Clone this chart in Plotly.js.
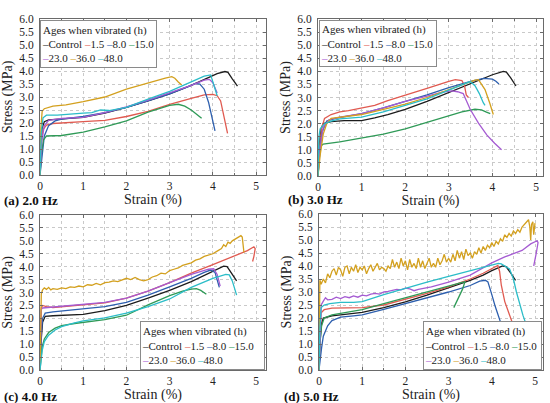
<!DOCTYPE html>
<html>
<head>
<meta charset="utf-8">
<script src="https://cdn.plot.ly/plotly-3.0.1.min.js"></script>
<style>
html,body{margin:0;padding:0;background:#fff;}
#chart{width:550px;height:403px;}
</style>
</head>
<body>
<div id="chart"></div>
<script>
// ---------- categories / labels ----------
const seriesNames = ['Control', '1.5', '8.0', '15.0', '23.0', '36.0', '48.0'];
const seriesColors = ['#1c1c1c', '#e05a50', '#2d5fae', '#2f9a57', '#a55bd2', '#d3a01e', '#2bbdc8'];
const panelLabels = ['(a) 2.0 Hz', '(b) 3.0 Hz', '(c) 4.0 Hz', '(d) 5.0 Hz'];
const legendTitles = ['Ages when vibrated (h)', 'Ages when vibrated (h)', 'Ages when vibrated (h)', 'Age when vibrated (h)'];
const xTitle = 'Strain (%)';
const yTitle = 'Stress (MPa)';

// ---------- (a) 2.0 Hz : [strain %, stress MPa] ----------
const a_control = [[0,0],[0.02,1.2],[0.05,1.8],[0.1,2.05],[0.2,2.12],[0.4,2.15],[0.7,2.18],[1.0,2.22],[1.5,2.38],[2.0,2.6],[2.5,2.85],[3.0,3.12],[3.5,3.45],[3.8,3.68],[4.1,3.9],[4.28,3.98],[4.35,3.95],[4.45,3.7],[4.57,3.42]];
const a_h1_5 = [[0,0],[0.03,1.2],[0.07,1.75],[0.15,1.92],[0.3,1.98],[0.6,2.02],[1.0,2.05],[1.5,2.1],[2.0,2.25],[2.5,2.45],[3.0,2.72],[3.5,2.95],[3.8,3.08],[4.0,3.1],[4.1,3.05],[4.18,2.85],[4.25,2.3],[4.3,1.9],[4.34,1.6]];
const a_h8_0 = [[0,0],[0.05,0.9],[0.1,1.5],[0.2,1.9],[0.35,2.08],[0.5,2.15],[1.0,2.25],[1.5,2.4],[2.0,2.6],[2.5,2.85],[3.0,3.12],[3.4,3.38],[3.6,3.52],[3.7,3.5],[3.8,3.3],[3.9,2.8],[4.0,2.1],[4.05,1.7]];
const a_h15_0 = [[0,0],[0.03,0.8],[0.08,1.35],[0.15,1.5],[0.5,1.52],[1.0,1.65],[1.5,1.85],[2.0,2.08],[2.5,2.42],[3.0,2.68],[3.2,2.72],[3.35,2.65],[3.5,2.5],[3.6,2.38],[3.74,2.18]];
const a_h23_0 = [[0,0],[0.04,1.3],[0.1,1.9],[0.2,2.1],[0.5,2.18],[1.0,2.22],[1.5,2.4],[2.0,2.62],[2.5,2.88],[3.0,3.15],[3.5,3.45],[3.8,3.65],[3.92,3.68],[4.0,3.55],[4.1,3.15]];
const a_h36_0 = [[0,0],[0.02,1.8],[0.05,2.45],[0.1,2.55],[0.3,2.65],[0.6,2.7],[1.0,2.82],[1.5,3.0],[2.0,3.3],[2.5,3.55],[2.9,3.73],[3.05,3.78],[3.12,3.72],[3.2,3.58],[3.28,3.46]];
const a_h48_0 = [[0,0],[0.03,1.6],[0.07,2.2],[0.15,2.3],[0.4,2.3],[0.7,2.35],[1.0,2.38],[1.2,2.4],[1.4,2.5],[1.6,2.48],[1.8,2.55],[2.0,2.6],[2.5,2.92],[3.0,3.22],[3.5,3.58],[3.8,3.8],[3.95,3.85],[4.0,3.6],[4.05,3.3],[4.1,3.05]];

// ---------- (b) 3.0 Hz ----------
const b_control = [[0,0],[0.03,1.2],[0.07,1.8],[0.12,2.0],[0.3,2.08],[0.6,2.12],[1.0,2.12],[1.3,2.22],[1.6,2.35],[2.0,2.55],[2.5,2.85],[3.0,3.2],[3.5,3.55],[3.8,3.75],[4.0,3.87],[4.25,4.0],[4.32,3.97],[4.42,3.75],[4.54,3.44]];
const b_h1_5 = [[0,0],[0.03,1.0],[0.08,1.8],[0.15,2.2],[0.3,2.35],[0.5,2.45],[0.7,2.5],[1.0,2.6],[1.3,2.7],[1.6,2.88],[2.0,3.08],[2.5,3.35],[3.0,3.62],[3.15,3.68],[3.3,3.65],[3.36,3.45],[3.4,3.1],[3.45,3.0]];
const b_h8_0 = [[0,0],[0.04,1.0],[0.1,1.7],[0.2,2.1],[0.4,2.2],[0.7,2.3],[1.0,2.38],[1.5,2.6],[2.0,2.85],[2.5,3.1],[3.0,3.38],[3.5,3.62],[3.8,3.73],[4.0,3.7],[4.08,3.62],[4.15,3.52]];
const b_h15_0 = [[0,0],[0.03,0.7],[0.07,1.15],[0.12,1.22],[0.5,1.3],[1.0,1.45],[1.5,1.6],[2.0,1.8],[2.5,2.05],[3.0,2.32],[3.3,2.45],[3.6,2.55],[3.75,2.53],[3.85,2.45],[3.95,2.38]];
const b_h23_0 = [[0,0],[0.05,1.1],[0.12,1.85],[0.25,2.15],[0.5,2.25],[1.0,2.38],[1.5,2.6],[2.0,2.85],[2.5,3.05],[2.9,3.22],[3.07,3.25],[3.2,3.22],[3.33,3.15],[3.49,2.55],[3.68,2.02],[3.87,1.57],[4.05,1.25],[4.21,1.0]];
const b_h36_0 = [[0,0],[0.05,0.8],[0.12,1.6],[0.2,2.0],[0.3,2.2],[0.5,2.25],[1.0,2.35],[1.5,2.55],[2.0,2.75],[2.5,3.0],[3.0,3.3],[3.4,3.55],[3.6,3.66],[3.68,3.68],[3.83,3.3],[3.94,2.78],[4.02,2.35]];
const b_h48_0 = [[0,0],[0.02,1.5],[0.05,1.8],[0.15,2.0],[0.3,2.1],[0.5,2.18],[1.0,2.25],[1.5,2.45],[2.0,2.7],[2.5,2.95],[3.0,3.28],[3.3,3.5],[3.49,3.61],[3.6,3.45],[3.7,3.15],[3.79,2.8],[3.83,2.7]];

// ---------- (c) 4.0 Hz ----------
const c_control = [[0,0],[0.02,1.0],[0.06,1.85],[0.12,2.08],[0.3,2.1],[0.6,2.12],[1.0,2.15],[1.5,2.3],[2.0,2.5],[2.5,2.78],[3.0,3.08],[3.5,3.42],[3.8,3.65],[4.0,3.82],[4.25,4.02],[4.33,4.0],[4.43,3.75],[4.55,3.45]];
const c_h1_5 = [[0,0],[0.01,1.5],[0.03,2.4],[0.06,2.5],[0.15,2.45],[0.3,2.42],[0.5,2.45],[0.8,2.48],[1.0,2.5],[1.5,2.6],[2.0,2.78],[2.5,3.05],[3.0,3.38],[3.5,3.75],[4.0,4.08],[4.5,4.4],[4.8,4.62],[4.95,4.77],[4.98,4.7],[4.95,4.4],[4.92,4.2]];
const c_h8_0 = [[0,0],[0.02,1.2],[0.06,2.0],[0.12,2.2],[0.3,2.25],[0.6,2.3],[1.0,2.35],[1.5,2.45],[2.0,2.62],[2.5,2.9],[3.0,3.22],[3.5,3.55],[3.8,3.78],[3.95,3.87],[4.05,3.78],[4.1,3.5],[4.15,3.2]];
const c_h15_0 = [[0,0],[0.02,0.5],[0.05,0.9],[0.1,1.2],[0.2,1.45],[0.35,1.62],[0.5,1.72],[0.8,1.8],[1.0,1.85],[1.5,1.95],[2.0,2.12],[2.5,2.52],[3.0,2.88],[3.3,3.05],[3.5,3.13],[3.62,3.15],[3.72,3.08],[3.8,3.0],[3.85,2.93]];
const c_h23_0 = [[0,0],[0.01,1.5],[0.03,2.35],[0.06,2.4],[0.2,2.42],[0.5,2.47],[1.0,2.55],[1.5,2.62],[2.0,2.78],[2.5,3.05],[3.0,3.38],[3.5,3.7],[3.9,3.9],[4.02,3.92],[4.1,3.7],[4.17,3.25]];
const c_h36_0 = [[0,0],[0.01,2.0],[0.03,2.95],[0.06,3.1],[0.1,3.18],[0.15,3.12],[0.2,3.2],[0.25,3.1],[0.3,3.15],[0.4,3.12],[0.5,3.18],[0.6,3.15],[0.7,3.22],[0.8,3.2],[0.9,3.25],[1.0,3.22],[1.1,3.3],[1.2,3.28],[1.3,3.35],[1.4,3.3],[1.5,3.38],[1.6,3.4],[1.7,3.45],[1.8,3.42],[1.9,3.5],[2.0,3.55],[2.1,3.5],[2.2,3.58],[2.3,3.5],[2.4,3.45],[2.5,3.5],[2.6,3.6],[2.7,3.65],[2.8,3.75],[2.9,3.72],[3.0,3.85],[3.1,3.9],[3.2,3.95],[3.3,4.05],[3.4,4.1],[3.5,4.15],[3.6,4.25],[3.7,4.3],[3.8,4.4],[3.9,4.45],[4.0,4.5],[4.1,4.6],[4.2,4.7],[4.25,4.85],[4.3,4.78],[4.35,4.95],[4.4,4.9],[4.45,5.0],[4.5,5.05],[4.55,5.1],[4.6,5.18],[4.65,5.2],[4.68,5.15],[4.7,4.9],[4.72,4.55]];
const c_h48_0 = [[0,0],[0.02,0.4],[0.05,0.75],[0.1,1.1],[0.2,1.35],[0.35,1.55],[0.5,1.68],[0.8,1.82],[1.0,1.9],[1.5,2.02],[2.0,2.2],[2.5,2.45],[3.0,2.75],[3.5,3.2],[4.0,3.55],[4.3,3.7],[4.38,3.68],[4.45,3.45],[4.5,3.15],[4.55,2.9]];

// ---------- (d) 5.0 Hz ----------
const d_control = [[0,0],[0.02,1.0],[0.06,1.8],[0.1,2.0],[0.3,2.08],[0.5,2.12],[1.0,2.22],[1.5,2.4],[2.0,2.62],[2.5,2.88],[3.0,3.15],[3.5,3.45],[3.8,3.65],[4.0,3.82],[4.25,4.0],[4.33,3.98],[4.43,3.75],[4.55,3.45]];
const d_h1_5 = [[0,0],[0.02,1.4],[0.05,2.2],[0.12,2.32],[0.3,2.38],[0.6,2.38],[1.0,2.4],[1.5,2.5],[2.0,2.72],[2.5,2.95],[3.0,3.2],[3.5,3.5],[3.8,3.72],[4.0,3.88],[4.14,4.02],[4.18,3.8],[4.22,3.26],[4.3,2.63],[4.41,2.11],[4.53,1.6],[4.65,1.0]];
const d_h8_0 = [[0,0],[0.03,0.5],[0.06,0.85],[0.1,1.3],[0.2,1.7],[0.3,1.9],[0.5,2.03],[0.8,2.08],[1.0,2.12],[1.5,2.33],[2.0,2.55],[2.5,2.78],[3.0,3.0],[3.5,3.25],[3.72,3.42],[3.85,3.45],[3.91,3.39],[4.0,2.9],[4.08,2.44],[4.25,1.6],[4.4,0.9]];
const d_h15_0 = [[0,0],[0.02,1.0],[0.06,1.7],[0.12,2.0],[0.3,2.12],[0.5,2.17],[1.0,2.32],[1.5,2.55],[2.0,2.78],[2.5,3.0],[3.0,3.22],[3.3,3.35],[3.38,3.4],[3.32,3.1],[3.24,2.8],[3.16,2.5],[3.12,2.4]];
const d_h23_0 = [[0,0],[0.02,1.5],[0.05,2.5],[0.1,2.65],[0.15,2.78],[0.2,2.7],[0.3,2.72],[0.4,2.8],[0.5,2.75],[0.6,2.82],[0.7,2.78],[0.8,2.85],[0.9,2.8],[1.0,2.88],[1.1,2.85],[1.2,2.92],[1.3,2.95],[1.4,2.92],[1.5,3.0],[1.6,3.02],[1.7,3.05],[1.8,3.1],[1.9,3.08],[2.0,3.15],[2.1,3.12],[2.2,3.05],[2.3,3.1],[2.6,3.2],[3.0,3.38],[3.5,3.65],[4.0,4.12],[4.3,4.35],[4.7,4.6],[4.9,4.85],[5.05,4.97],[5.07,4.9],[5.03,4.5],[4.97,4.0]];
const d_h36_0 = [[0,0],[0.01,2.5],[0.02,3.45],[0.05,3.3],[0.1,3.5],[0.15,3.35],[0.2,3.7],[0.25,3.55],[0.3,3.8],[0.35,3.9],[0.4,3.65],[0.45,3.95],[0.5,3.85],[0.55,3.6],[0.6,3.95],[0.65,4.0],[0.7,3.7],[0.75,3.95],[0.8,3.8],[0.85,4.05],[0.9,3.75],[0.95,3.95],[1.0,3.85],[1.05,4.0],[1.1,3.7],[1.15,3.9],[1.2,4.05],[1.25,3.8],[1.3,3.95],[1.35,4.1],[1.4,3.85],[1.45,3.95],[1.5,3.9],[1.55,3.8],[1.6,4.0],[1.65,3.9],[1.7,4.25],[1.75,3.95],[1.8,4.15],[1.85,3.9],[1.9,4.3],[1.95,4.0],[2.0,4.2],[2.05,3.85],[2.1,4.25],[2.15,3.95],[2.2,4.1],[2.25,3.9],[2.3,4.3],[2.35,3.95],[2.4,4.2],[2.45,3.9],[2.5,4.1],[2.55,4.3],[2.6,3.95],[2.65,4.1],[2.7,3.95],[2.75,4.3],[2.8,4.05],[2.85,4.2],[2.9,4.45],[2.95,4.15],[3.0,4.3],[3.05,4.15],[3.1,4.45],[3.15,4.2],[3.2,4.6],[3.25,4.3],[3.3,4.55],[3.35,4.25],[3.4,4.65],[3.45,4.4],[3.5,4.5],[3.55,4.3],[3.6,4.55],[3.65,4.45],[3.7,4.7],[3.75,4.5],[3.8,4.75],[3.85,4.6],[3.9,4.8],[3.95,4.7],[4.0,4.9],[4.05,4.75],[4.1,4.95],[4.15,4.85],[4.2,5.05],[4.25,4.95],[4.3,5.2],[4.35,5.1],[4.4,5.25],[4.45,5.15],[4.5,5.35],[4.55,5.25],[4.6,5.4],[4.65,5.3],[4.7,5.5],[4.75,5.6],[4.8,5.7],[4.85,5.78],[4.88,5.5],[4.9,5.0],[4.92,5.6],[4.95,5.7],[4.97,5.2],[5.0,5.65]];
const d_h48_0 = [[0,0],[0.02,1.6],[0.05,2.4],[0.12,2.5],[0.25,2.55],[0.5,2.6],[0.8,2.6],[1.0,2.63],[1.5,2.9],[2.0,3.15],[2.5,3.38],[3.0,3.6],[3.5,3.82],[4.0,4.05],[4.15,4.1],[4.22,4.08],[4.41,3.89],[4.5,3.5],[4.57,3.0],[4.72,2.11],[4.83,1.6],[4.95,1.0]];

const panelA = [a_control, a_h1_5, a_h8_0, a_h15_0, a_h23_0, a_h36_0, a_h48_0];
const panelB = [b_control, b_h1_5, b_h8_0, b_h15_0, b_h23_0, b_h36_0, b_h48_0];
const panelC = [c_control, c_h1_5, c_h8_0, c_h15_0, c_h23_0, c_h36_0, c_h48_0];
const panelD = [d_control, d_h1_5, d_h8_0, d_h15_0, d_h23_0, d_h36_0, d_h48_0];
const panels = [panelA, panelB, panelC, panelD];

// ---------- layout geometry (pixels of the 550x403 page) ----------
const W = 550, H = 403;
const boxes = [
  {l: 40,  r: 266, t: 19,  b: 175, xmax: 5.23},
  {l: 318, r: 543, t: 19,  b: 176, xmax: 5.16},
  {l: 40,  r: 266, t: 215, b: 370, xmax: 5.23},
  {l: 319, r: 543, t: 214, b: 370, xmax: 5.185}
];
const legendBoxes = [
  {l: 40,  t: 20,  w: 117, h: 48},
  {l: 319, t: 20,  w: 118, h: 47},
  {l: 140, t: 321, w: 125, h: 49},
  {l: 423, t: 321, w: 119, h: 49}
];
const labelPos = [
  {x: 2, y: 201}, {x: 286, y: 199}, {x: 2, y: 396}, {x: 282, y: 396}
];

const FONT = 'Liberation Serif, Times New Roman, serif';
const gridCol = '#c9c9c9';
const lineCol = '#6a6a6a';

const traces = [];
const layout = {
  width: W, height: H,
  margin: {l: 0, r: 0, t: 0, b: 0},
  paper_bgcolor: '#fff', plot_bgcolor: '#fff',
  showlegend: false,
  font: {family: FONT, size: 12, color: '#222'},
  annotations: []
};

panels.forEach((curves, p) => {
  const sfx = p === 0 ? '' : String(p + 1);
  curves.forEach((pts, s) => {
    traces.push({
      type: 'scatter', mode: 'lines',
      name: seriesNames[s],
      x: pts.map(q => q[0]), y: pts.map(q => q[1]),
      xaxis: 'x' + sfx, yaxis: 'y' + sfx,
      line: {color: seriesColors[s], width: 1.3},
      hoverinfo: 'skip'
    });
  });
  const bx = boxes[p];
  const common = {
    showline: true, linecolor: lineCol, linewidth: 1, mirror: 'ticks',
    ticks: 'inside', ticklen: 3, tickcolor: lineCol,
    showgrid: true, gridcolor: gridCol, griddash: 'dot', gridwidth: 1,
    zeroline: false, fixedrange: true
  };
  layout['xaxis' + sfx] = Object.assign({}, common, {
    domain: [bx.l / W, bx.r / W], range: [0, bx.xmax],
    anchor: 'y' + sfx, tick0: 0, dtick: 1,
    tickfont: {family: FONT, size: 11.5, color: '#222'},
    minor: {dtick: 0.5, showgrid: true, gridcolor: gridCol, griddash: 'dot', ticks: 'inside', ticklen: 2, tickcolor: lineCol},
    title: {text: xTitle, font: {family: FONT, size: 14, color: '#222'}, standoff: 3}
  });
  layout['yaxis' + sfx] = Object.assign({}, common, {
    domain: [(H - bx.b) / H, (H - bx.t) / H], range: [0, 6],
    anchor: 'x' + sfx, tick0: 0, dtick: 0.5, tickformat: '.1f',
    tickfont: {family: FONT, size: 11.5, color: '#222'},
    ticklabelstandoff: 3,
    title: {text: yTitle, font: {family: FONT, size: 14, color: '#222'}, standoff: 3}
  });

  // legend box (drawn as text with coloured dashes)
  const lb = legendBoxes[p];
  const item = s => `<span style="color:${seriesColors[s]}">–</span>${seriesNames[s]}`;
  const txt = legendTitles[p] + '<br>' +
    [0, 1, 2, 3].map(item).join(' ') + '<br>' +
    [4, 5, 6].map(item).join(' ');
  layout.annotations.push({
    xref: 'paper', yref: 'paper',
    x: lb.l / W, y: 1 - lb.t / H, xanchor: 'left', yanchor: 'top',
    text: txt, showarrow: false, align: 'left', valign: 'middle',
    width: lb.w - 4, height: lb.h - 4,
    bgcolor: '#fff', bordercolor: '#8a8a8a', borderwidth: 1, borderpad: 1,
    font: {family: FONT, size: 11, color: '#222'}
  });
  // panel label
  const lp = labelPos[p];
  layout.annotations.push({
    xref: 'paper', yref: 'paper',
    x: lp.x / W, y: 1 - lp.y / H, xanchor: 'left', yanchor: 'middle',
    text: '<b>' + panelLabels[p] + '</b>', showarrow: false,
    font: {family: FONT, size: 13, color: '#111'}
  });
});

Plotly.newPlot('chart', traces, layout, {staticPlot: true, displayModeBar: false});
</script>
</body>
</html>
